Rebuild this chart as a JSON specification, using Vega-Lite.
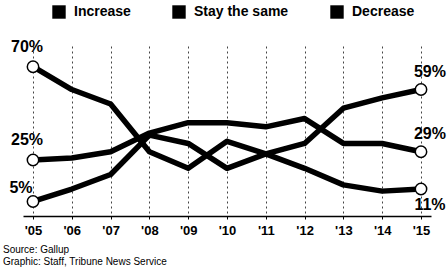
{
  "$schema": "https://vega.github.io/schema/vega-lite/v6.json",
  "width": 408,
  "height": 170,
  "autosize": {"type": "none"},
  "padding": {"left": 23, "top": 46, "right": 17, "bottom": 53},
  "background": "white",
  "config": {"view": {"stroke": null}, "font": "Liberation Sans"},
  "title": {
    "text": ["Source: Gallup", "Graphic: Staff, Tribune News Service"],
    "orient": "bottom",
    "anchor": "start",
    "frame": "group",
    "fontSize": 10,
    "fontWeight": "normal",
    "lineHeight": 12,
    "dx": -20,
    "offset": 8,
    "color": "black",
    "font": "Liberation Sans"
  },
  "data": {
    "values": [
      {"year": "'05", "series": "Increase", "pct": 5},
      {"year": "'06", "series": "Increase", "pct": 11},
      {"year": "'07", "series": "Increase", "pct": 18},
      {"year": "'08", "series": "Increase", "pct": 37},
      {"year": "'09", "series": "Increase", "pct": 33},
      {"year": "'10", "series": "Increase", "pct": 21},
      {"year": "'11", "series": "Increase", "pct": 28},
      {"year": "'12", "series": "Increase", "pct": 33},
      {"year": "'13", "series": "Increase", "pct": 50},
      {"year": "'14", "series": "Increase", "pct": 55},
      {"year": "'15", "series": "Increase", "pct": 59},
      {"year": "'05", "series": "Stay the same", "pct": 25},
      {"year": "'06", "series": "Stay the same", "pct": 26},
      {"year": "'07", "series": "Stay the same", "pct": 29},
      {"year": "'08", "series": "Stay the same", "pct": 38},
      {"year": "'09", "series": "Stay the same", "pct": 43},
      {"year": "'10", "series": "Stay the same", "pct": 43},
      {"year": "'11", "series": "Stay the same", "pct": 41},
      {"year": "'12", "series": "Stay the same", "pct": 45},
      {"year": "'13", "series": "Stay the same", "pct": 33},
      {"year": "'14", "series": "Stay the same", "pct": 33},
      {"year": "'15", "series": "Stay the same", "pct": 29},
      {"year": "'05", "series": "Decrease", "pct": 70},
      {"year": "'06", "series": "Decrease", "pct": 59},
      {"year": "'07", "series": "Decrease", "pct": 52},
      {"year": "'08", "series": "Decrease", "pct": 29},
      {"year": "'09", "series": "Decrease", "pct": 21},
      {"year": "'10", "series": "Decrease", "pct": 34},
      {"year": "'11", "series": "Decrease", "pct": 28},
      {"year": "'12", "series": "Decrease", "pct": 21},
      {"year": "'13", "series": "Decrease", "pct": 13},
      {"year": "'14", "series": "Decrease", "pct": 10},
      {"year": "'15", "series": "Decrease", "pct": 11}
    ]
  },
  "encoding": {
    "x": {
      "field": "year",
      "type": "ordinal",
      "sort": ["'05", "'06", "'07", "'08", "'09", "'10", "'11", "'12", "'13", "'14", "'15"],
      "scale": {"type": "point", "padding": 0.258},
      "axis": {
        "title": null,
        "labelAngle": 0,
        "labelFontSize": 13,
        "labelFontWeight": "bold",
        "labelColor": "black",
        "labelFont": "Liberation Sans",
        "labelPadding": 5,
        "domainColor": "black",
        "domainWidth": 1.5,
        "tickColor": "black",
        "tickSize": 3,
        "grid": true,
        "gridColor": "#444444",
        "gridDash": [2, 3],
        "gridWidth": 1
      }
    },
    "y": {
      "field": "pct",
      "type": "quantitative",
      "scale": {"domain": [-2, 80], "nice": false, "zero": false},
      "axis": null
    }
  },
  "layer": [
    {
      "mark": {"type": "line", "strokeWidth": 5.5, "strokeJoin": "round"},
      "encoding": {
        "color": {
          "field": "series",
          "type": "nominal",
          "scale": {"domain": ["Increase", "Stay the same", "Decrease"], "range": ["black", "black", "black"]},
          "legend": {
            "title": null,
            "orient": "none",
            "legendX": 29,
            "legendY": -41,
            "direction": "horizontal",
            "symbolType": "square",
            "symbolSize": 180,
            "symbolFillColor": "black",
            "symbolStrokeColor": "black",
            "symbolStrokeWidth": 0,
            "symbolOpacity": 1,
            "labelFontSize": 14,
            "labelFontWeight": "bold",
            "labelColor": "black",
            "labelFont": "Liberation Sans",
            "labelOffset": 8,
            "columnPadding": 41
          }
        }
      }
    },
    {
      "transform": [{"filter": {"field": "year", "oneOf": ["'05", "'15"]}}],
      "mark": {"type": "point", "shape": "circle", "filled": true, "fill": "white", "stroke": "black", "strokeWidth": 1.5, "size": 130, "opacity": 1}
    },
    {
      "transform": [
        {"filter": {"and": [{"field": "year", "equal": "'05"}, {"field": "series", "oneOf": ["Stay the same", "Decrease"]}]}},
        {"calculate": "datum.pct + '%'", "as": "label"}
      ],
      "mark": {"type": "text", "dx": -6, "dy": -20, "fontSize": 16, "fontWeight": "bold", "color": "black", "font": "Liberation Sans"},
      "encoding": {"text": {"field": "label"}}
    },
    {
      "transform": [
        {"filter": {"and": [{"field": "year", "equal": "'05"}, {"field": "series", "equal": "Increase"}]}},
        {"calculate": "datum.pct + '%'", "as": "label"}
      ],
      "mark": {"type": "text", "dx": -12, "dy": -13, "fontSize": 16, "fontWeight": "bold", "color": "black", "font": "Liberation Sans"},
      "encoding": {"text": {"field": "label"}}
    },
    {
      "transform": [
        {"filter": {"and": [{"field": "year", "equal": "'15"}, {"field": "series", "oneOf": ["Stay the same", "Increase"]}]}},
        {"calculate": "datum.pct + '%'", "as": "label"}
      ],
      "mark": {"type": "text", "dx": 9, "dy": -18, "fontSize": 16, "fontWeight": "bold", "color": "black", "font": "Liberation Sans"},
      "encoding": {"text": {"field": "label"}}
    },
    {
      "transform": [
        {"filter": {"and": [{"field": "year", "equal": "'15"}, {"field": "series", "equal": "Decrease"}]}},
        {"calculate": "datum.pct + '%'", "as": "label"}
      ],
      "mark": {"type": "text", "dx": 9, "dy": 16, "fontSize": 16, "fontWeight": "bold", "color": "black", "font": "Liberation Sans"},
      "encoding": {"text": {"field": "label"}}
    }
  ]
}
